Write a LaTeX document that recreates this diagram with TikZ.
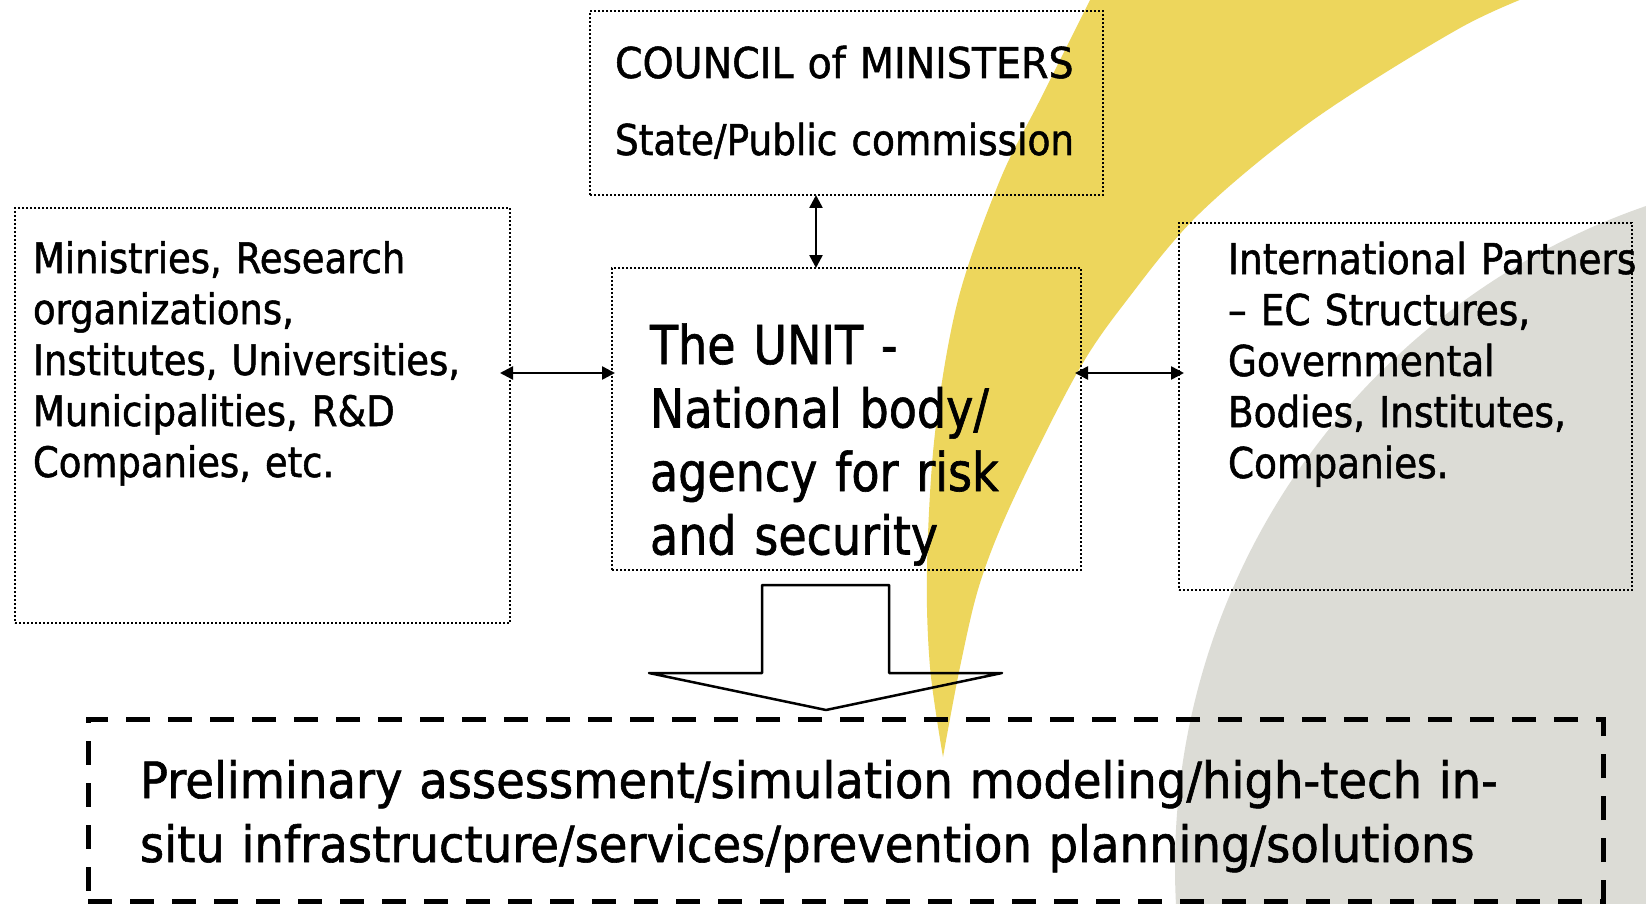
\documentclass[tikz,border=0pt]{standalone}
\usepackage{fontspec}
\setmainfont{DejaVu Sans}
\newfontfamily\fcouncil{DejaVu Sans}[FakeStretch=0.93,FakeBold=1.2]
\newfontfamily\fside{DejaVu Sans}[FakeStretch=0.88,FakeBold=1.2]
\newfontfamily\funit{DejaVu Sans}[FakeStretch=0.86,FakeBold=1.2]
\newfontfamily\fbottom{DejaVu Sans}[FakeStretch=0.93,FakeBold=1.2]
\usetikzlibrary{arrows.meta,calc}
\definecolor{sunyellow}{RGB}{237,214,92}
\definecolor{paleGrey}{RGB}{220,220,214}
\begin{document}
\begin{tikzpicture}[x=1pt,y=-1pt,
  dotbox/.style={draw=black, line width=2pt, dash pattern=on 2pt off 2pt, inner sep=0pt, outer sep=0pt, anchor=north west},
  dashbox/.style={draw=black, line width=5pt, dash pattern=on 24pt off 18pt, inner sep=0pt, outer sep=0pt, anchor=north west},
  txt/.style={anchor=base west, inner sep=0pt, outer sep=0pt, align=left},
  link/.style={line width=2.5pt, {Triangle[length=13pt,width=13pt]}-{Triangle[length=13pt,width=13pt]}},
  blockarrow/.style={draw=black, line width=2.5pt, line join=round}]
\useasboundingbox (0,0) rectangle (1646,904);
\clip (0,0) rectangle (1646,904);
\fill[white] (0,0) rectangle (1646,904);
% background shapes
\fill[paleGrey] (1874,867) circle[radius=699pt];
\fill[sunyellow] plot[smooth,tension=0.55] coordinates {(1095,-10) (1040,100) (1000,180) (958,300) (935,433) (927,567) (930,667) (943,757)}
  -- plot[smooth,tension=0.55] coordinates {(943,757) (960,667) (980,583) (1013,500) (1077,373) (1127,300) (1200,213) (1313,120) (1460,28) (1545,-10)} -- cycle;
% boxes
\node[dotbox, minimum width=513pt, minimum height=184pt] (council) at (590,11) {};
\node[dotbox, minimum width=495pt, minimum height=415pt] (left) at (15,208) {};
\node[dotbox, minimum width=469pt, minimum height=302pt] (unit) at (612,268) {};
\node[dotbox, minimum width=453pt, minimum height=367pt] (right) at (1179,223) {};
\node[dashbox, minimum width=1515pt, minimum height=182pt] (bottom) at (88,719) {};
% texts
\node[txt, text width=600pt, font=\fcouncil\fontsize{42.5}{77}\selectfont] (counciltxt) at (615,78) {COUNCIL of MINISTERS\\{\fside State/Public commission}};
\node[txt, text width=600pt, font=\fside\fontsize{42}{51}\selectfont] (lefttxt) at (33,273) {Ministries, Research\\organizations,\\Institutes, Universities,\\Municipalities, R\&D\\Companies, etc.};
\node[txt, text width=600pt, font=\funit\fontsize{53.5}{63.5}\selectfont] (unittxt) at (650,364) {The UNIT -\\National body/\\agency for risk\\and security};
\node[txt, text width=600pt, font=\fside\fontsize{42.5}{51}\selectfont] (righttxt) at (1228,274) {International Partners\\– EC Structures,\\Governmental\\Bodies, Institutes,\\Companies.};
\node[txt, text width=1500pt, font=\fbottom\fontsize{50}{64}\selectfont] (bottomtxt) at (140,798) {Preliminary assessment/simulation modeling/high-tech in-\\situ infrastructure/services/prevention planning/solutions};
% connectors
\coordinate (vx) at (816,0);
\coordinate (hy) at (0,373);
\draw[link] (council.south -| vx) -- (unit.north -| vx);
\draw[link, shorten <=-10pt, shorten >=-3pt] (left.east |- hy) -- (unit.west |- hy);
\draw[link, shorten <=-6pt, shorten >=-5pt] (unit.east |- hy) -- (right.west |- hy);
% block arrow from unit to bottom box
\coordinate (bat) at ($(unit.south)+(-21,15)$);
\draw[blockarrow] ($(bat)+(-63.5,0)$) -- ($(bat)+(63.5,0)$) -- ($(bat)+(63.5,88)$) -- ($(bat)+(176.5,88)$) -- ($(bat)+(0.5,125)$) -- ($(bat)+(-176.5,88)$) -- ($(bat)+(-63.5,88)$) -- cycle;
\end{tikzpicture}
\end{document}
